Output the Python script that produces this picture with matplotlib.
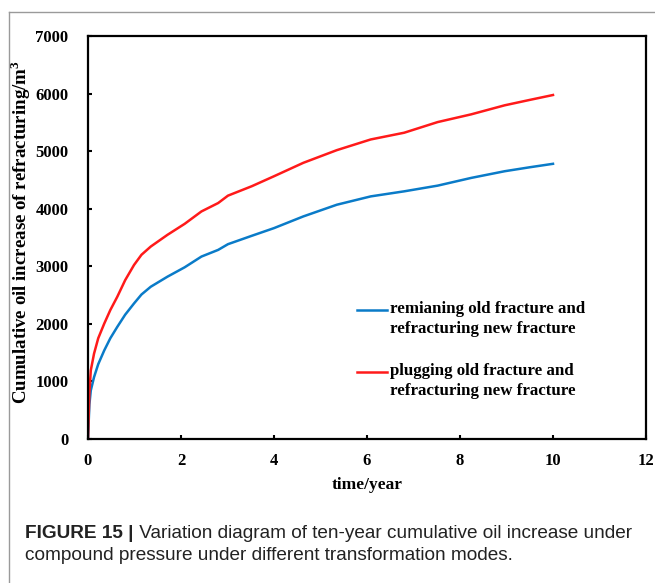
import matplotlib
matplotlib.use("Agg")
import matplotlib.pyplot as plt
from matplotlib.lines import Line2D

# ---- data ----
t_blue = [0, 0.03, 0.06, 0.13, 0.22, 0.35, 0.48, 0.63, 0.80, 0.99, 1.15, 1.35, 1.71, 2.08, 2.44,
          2.80, 3.01, 3.52, 4.0, 4.63, 5.35, 6.08, 6.80, 7.52, 8.24, 8.96, 9.5, 10.0]
v_blue = [0, 600, 843, 1075, 1300, 1540, 1750, 1948, 2160, 2355, 2510, 2645, 2820, 2983, 3169,
          3285, 3384, 3529, 3663, 3866, 4069, 4214, 4302, 4401, 4535, 4651, 4720, 4780]
t_red = [0, 0.03, 0.06, 0.13, 0.22, 0.35, 0.48, 0.63, 0.80, 0.99, 1.15, 1.35, 1.71, 2.08, 2.44,
         2.80, 3.01, 3.52, 4.0, 4.63, 5.35, 6.08, 6.80, 7.52, 8.24, 8.96, 9.5, 10.0]
v_red = [0, 800, 1192, 1483, 1750, 2006, 2240, 2471, 2760, 3023, 3200, 3343, 3547, 3738, 3953,
         4099, 4227, 4390, 4564, 4797, 5017, 5203, 5320, 5505, 5639, 5796, 5890, 5975]
label_blue = "remianing old fracture and\nrefracturing new fracture"
label_red = "plugging old fracture and\nrefracturing new fracture"
xticks = [0, 2, 4, 6, 8, 10, 12]
yticks = [0, 1000, 2000, 3000, 4000, 5000, 6000, 7000]
xlabel = "time/year"
ylabel = "Cumulative oil increase of refracturing/m$^\\mathbf{3}$"
caption_bold = "FIGURE 15 |"
caption_rest = " Variation diagram of ten-year cumulative oil increase under"
caption_line2 = "compound pressure under different transformation modes."

serif = "Liberation Serif"
sans = "Liberation Sans"
BLUE = "#0A7BC8"
RED = "#FF1A1A"

plt.rcParams["mathtext.fontset"] = "custom"
plt.rcParams["mathtext.bf"] = "Liberation Serif:bold"
plt.rcParams["mathtext.rm"] = "Liberation Serif"

W, H = 655, 583
fig = plt.figure(figsize=(W / 100, H / 100), dpi=100)
AX_L, AX_R, AX_T, AX_B = 88, 646, 36, 439
ax = fig.add_axes([AX_L / W, 1 - AX_B / H, (AX_R - AX_L) / W, (AX_B - AX_T) / H])

ax.plot(t_blue, v_blue, color=BLUE, lw=1.8)
ax.plot(t_red, v_red, color=RED, lw=1.8)

ax.set_xlim(0, 12)
ax.set_ylim(0, 7000)
ax.set_xticks(xticks)
ax.set_yticks(yticks)
ax.tick_params(direction="in", length=3, width=1.5)
ax.tick_params(axis="x", pad=10)
ax.tick_params(axis="y", pad=14)
for lab in ax.get_xticklabels() + ax.get_yticklabels():
    lab.set_fontfamily(serif)
    lab.set_fontweight("bold")
    lab.set_fontsize(12)
for s in ax.spines.values():
    s.set_linewidth(1.6)

ax.set_xlabel(xlabel, fontfamily=serif, fontweight="bold", fontsize=12.5, labelpad=6)
ax.set_ylabel(ylabel, fontfamily=serif, fontweight="bold", fontsize=13.6)
ax.yaxis.set_label_coords((33 - AX_L) / (AX_R - AX_L), (AX_B - 232) / (AX_B - AX_T))

def fx(px):
    return px / W

def fy(py):
    return 1 - py / H

for (ly, col, lab) in [(310, BLUE, label_blue), (372, RED, label_red)]:
    fig.add_artist(Line2D([fx(357), fx(387)], [fy(ly), fy(ly)], color=col, lw=1.8))
    fig.text(fx(390), fy(ly - 9), lab, fontfamily=serif, fontweight="bold", fontsize=12.2,
             va="top", ha="left", linespacing=1.3)

# figure border lines
fig.add_artist(Line2D([fx(9), 1], [fy(12), fy(12)], color="#9a9a9a", lw=1.0))
fig.add_artist(Line2D([fx(9), fx(9)], [0, fy(12)], color="#9a9a9a", lw=1.0))

# caption
CS = 13.7
t1 = fig.text(fx(25), fy(533), caption_bold, fontfamily=sans, fontweight="bold",
              fontsize=CS, va="center", ha="left", color="#222222")
fig.canvas.draw()
bb = t1.get_window_extent()
x2 = bb.x1 / fig.bbox.width
fig.text(x2, fy(533), caption_rest, fontfamily=sans, fontsize=CS,
         va="center", ha="left", color="#222222")
fig.text(fx(25), fy(556), caption_line2, fontfamily=sans, fontsize=CS,
         va="center", ha="left", color="#222222")

fig.savefig("out.png", dpi=100)
